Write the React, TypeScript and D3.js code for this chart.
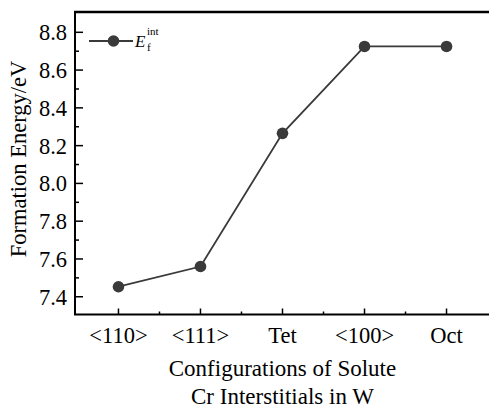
import React from "react";
import * as d3 from "d3";

const categories = ["<110>", "<111>", "Tet", "<100>", "Oct"];
const energies = [7.453, 7.56, 8.265, 8.725, 8.725];
const yTicks = [7.4, 7.6, 7.8, 8.0, 8.2, 8.4, 8.6, 8.8];
const yMinorTicks = [7.5, 7.7, 7.9, 8.1, 8.3, 8.5, 8.7];
const xLabelLines = ["Configurations of Solute", "Cr Interstitials in W"];
const yLabel = "Formation Energy/eV";

const W = 489;
const H = 408;
const left = 75;
const right = 490;
const top = 12;
const bottom = 314.5;
const font = "'Liberation Serif', 'Times New Roman', serif";
const ink = "#3a3a3a";

export default function App() {
  const x = d3.scaleLinear().domain([-0.53, 4.53]).range([left, right]);
  const y = d3.scaleLinear().domain([7.306, 8.9075]).range([bottom, top]);
  const line = d3
    .line<number>()
    .x((_, i) => x(i))
    .y((d) => y(d));
  const xMinor = d3.range(categories.length - 1).map((i) => i + 0.5);

  return (
    <svg
      width={W}
      height={H}
      style={{ position: "absolute", left: 0, top: 0, background: "#fff" }}
    >
      {/* frame */}
      <line x1={left} x2={left} y1={top} y2={bottom} stroke="#000" strokeWidth={2} />
      <line x1={left - 1} x2={W} y1={bottom} y2={bottom} stroke="#000" strokeWidth={2} />
      <line x1={left - 1} x2={W} y1={top} y2={top} stroke="#000" strokeWidth={2.6} />

      {/* y ticks */}
      {yTicks.map((t) => (
        <g key={t}>
          <line x1={left} x2={left + 8} y1={y(t)} y2={y(t)} stroke="#000" strokeWidth={1.5} />
          <text
            x={67}
            y={y(t) + 8}
            textAnchor="end"
            fontFamily={font}
            fontSize={22.5}
            fill="#000"
          >
            {t.toFixed(1)}
          </text>
        </g>
      ))}
      {yMinorTicks.map((t) => (
        <line key={t} x1={left} x2={left + 4} y1={y(t)} y2={y(t)} stroke="#000" strokeWidth={1.5} />
      ))}

      {/* x ticks */}
      {categories.map((c, i) => (
        <g key={c}>
          <line x1={x(i)} x2={x(i)} y1={bottom} y2={bottom - 6} stroke="#000" strokeWidth={1.5} />
          <text
            x={x(i)}
            y={343}
            textAnchor="middle"
            fontFamily={font}
            fontSize={22.5}
            fill="#000"
          >
            {c}
          </text>
        </g>
      ))}
      {xMinor.map((t) => (
        <line key={t} x1={x(t)} x2={x(t)} y1={bottom} y2={bottom - 3} stroke="#000" strokeWidth={1.5} />
      ))}

      {/* axis titles */}
      {xLabelLines.map((s, i) => (
        <text
          key={s}
          x={x(2)}
          y={376 + i * 27.5}
          textAnchor="middle"
          fontFamily={font}
          fontSize={23}
          fill="#000"
        >
          {s}
        </text>
      ))}
      <text
        transform={`translate(26,159) rotate(-90)`}
        textAnchor="middle"
        fontFamily={font}
        fontSize={22.5}
        fill="#000"
      >
        {yLabel}
      </text>

      {/* data */}
      <path d={line(energies) || ""} fill="none" stroke={ink} strokeWidth={1.8} />
      {energies.map((v, i) => (
        <circle key={i} cx={x(i)} cy={y(v)} r={5.8} fill={ink} />
      ))}

      {/* legend */}
      <line x1={89} x2={133} y1={41} y2={41} stroke={ink} strokeWidth={1.8} />
      <circle cx={113.5} cy={41} r={5.8} fill={ink} />
      <text x={135} y={47} fontFamily={font} fontSize={17} fontStyle="italic" fill="#000">
        E
      </text>
      <text x={147} y={35} fontFamily={font} fontSize={11} fill="#000">
        int
      </text>
      <text x={147} y={51} fontFamily={font} fontSize={11} fill="#000">
        f
      </text>
    </svg>
  );
}
